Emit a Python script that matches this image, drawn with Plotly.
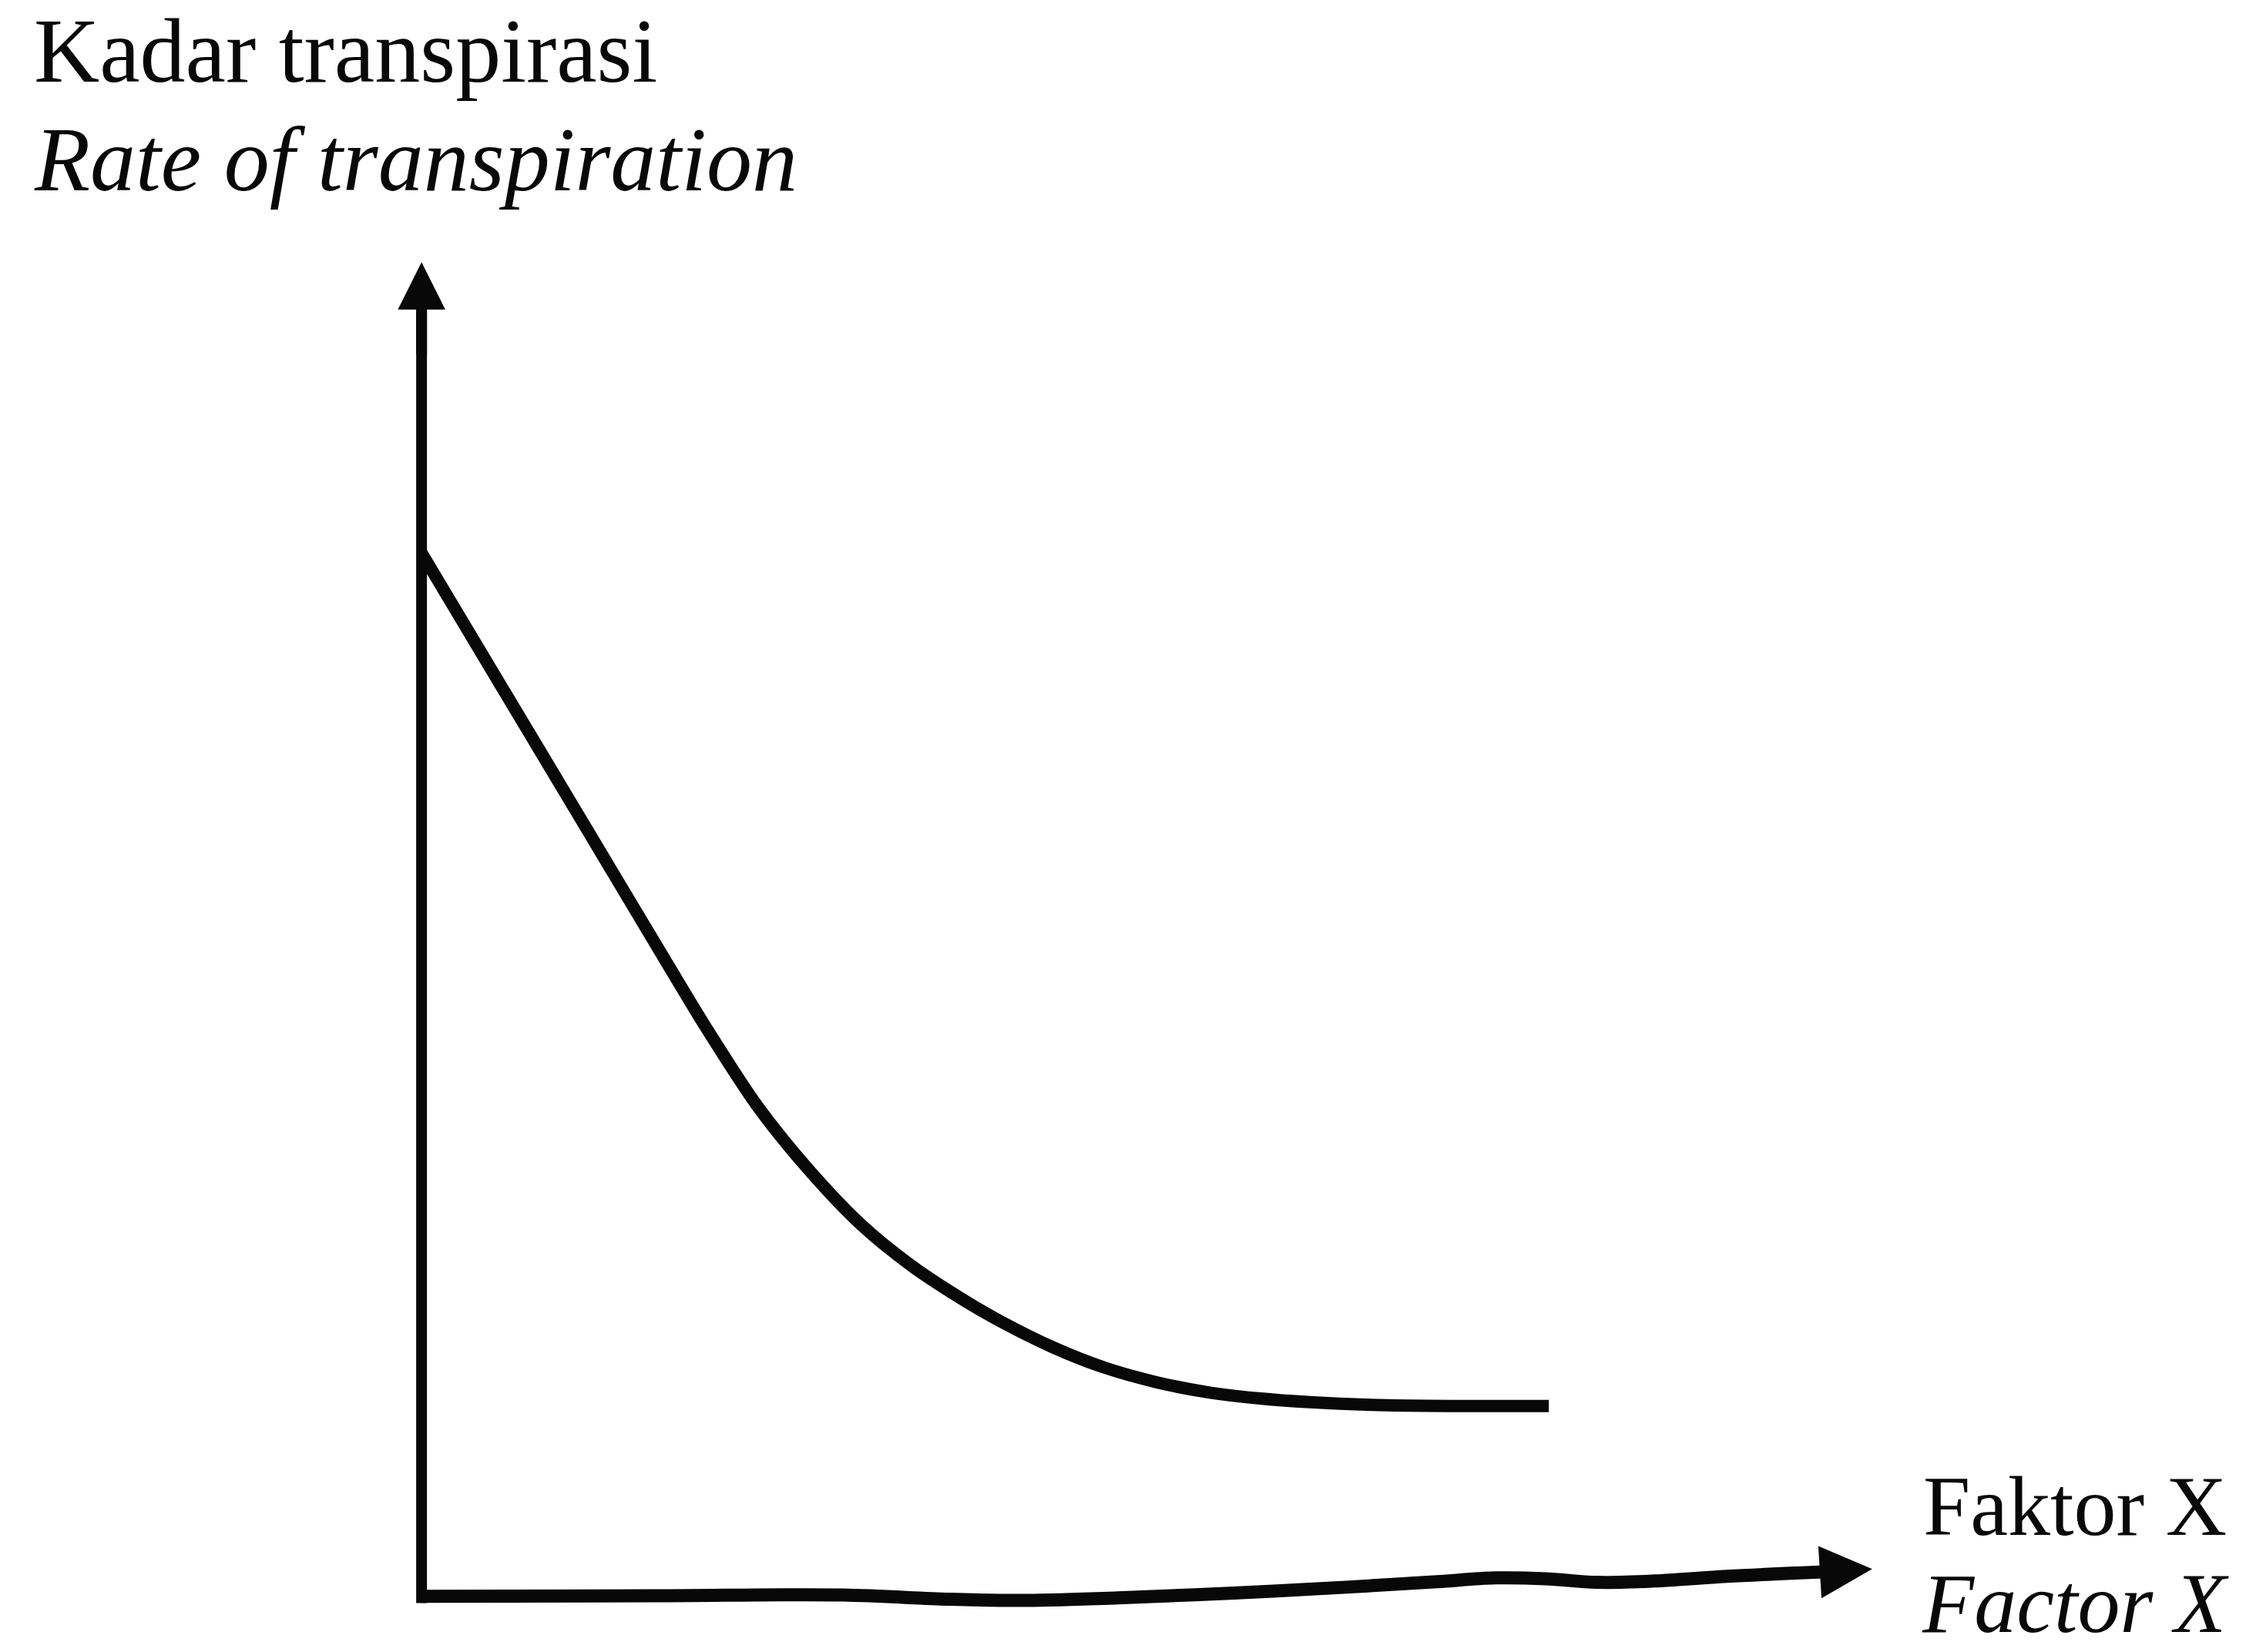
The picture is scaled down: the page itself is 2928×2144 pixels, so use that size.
import plotly.graph_objects as go

# ---- data (x = Factor X, y = rate of transpiration, arbitrary units) ----
factor_x = [0.000, 0.547, 1.078, 1.609, 1.965, 2.316, 2.672, 3.027, 3.378, 3.734,
            4.000, 4.356, 4.706, 5.062, 5.418, 5.769, 6.125, 6.656, 7.187, 7.771]
rate = [7.820, 6.826, 5.862, 4.897, 4.256, 3.673, 3.194, 2.789, 2.478, 2.223,
        2.056, 1.865, 1.715, 1.606, 1.530, 1.484, 1.455, 1.432, 1.426, 1.426]

# hand-drawn (slightly wavy) horizontal axis
axis_x = [0.00, 1.60, 2.90, 3.64, 4.17, 4.80, 5.60, 6.40, 7.00, 7.40,
          7.75, 8.10, 8.50, 9.00, 9.70]
axis_y = [0.000, 0.004, 0.010, -0.022, -0.030, -0.012, 0.025, 0.070, 0.110, 0.138,
          0.132, 0.105, 0.115, 0.150, 0.185]

y_label = ["Kadar transpirasi", "Rate of transpiration"]
x_label = ["Faktor X", "Factor X"]

# ---- layout geometry ----
W, H = 2928, 2144
L, R, T, B = 453, 404, 271, 3
XR = [-0.5, 10.5]
YR = [-0.4, 10.4]
INK = "#080808"
FONT = "Liberation Serif"


def px_x(px):
    return (px - L) / (W - L - R)


def px_y(py):
    return (H - B - py) / (H - T - B)


fig = go.Figure()

# vertical axis line
fig.add_trace(go.Scatter(x=[0, 0], y=[-0.05, 9.8], mode="lines",
                         line=dict(color=INK, width=14), hoverinfo="skip"))
# horizontal wavy axis line
fig.add_trace(go.Scatter(x=axis_x, y=axis_y, mode="lines",
                         line=dict(color=INK, width=17, shape="spline", smoothing=1.0),
                         hoverinfo="skip"))
# the curve
fig.add_trace(go.Scatter(x=factor_x, y=rate, mode="lines",
                         line=dict(color=INK, width=16, shape="spline", smoothing=0.8),
                         hoverinfo="skip"))

annotations = [
    # arrow heads
    dict(x=0, y=10, ax=0, ay=9.3, xref="x", yref="y", axref="x", ayref="y",
         text="", showarrow=True, arrowhead=2, arrowsize=0.88, arrowwidth=14,
         arrowcolor=INK, standoff=0, startstandoff=0),
    dict(x=10, y=0.205, ax=axis_x[-1], ay=axis_y[-1], xref="x", yref="y", axref="x", ayref="y",
         text="", showarrow=True, arrowhead=2, arrowsize=0.80, arrowwidth=17,
         arrowcolor=INK, standoff=0, startstandoff=0),
    # labels
    dict(x=px_x(42), y=px_y(66), xref="paper", yref="paper", xanchor="left", yanchor="middle",
         text=y_label[0], showarrow=False, font=dict(family=FONT, size=118, color=INK)),
    dict(x=px_x(42), y=px_y(207), xref="paper", yref="paper", xanchor="left", yanchor="middle",
         text="<i>" + y_label[1] + "</i>", showarrow=False, font=dict(family=FONT, size=118, color=INK)),
    dict(x=px_x(2494), y=px_y(1955), xref="paper", yref="paper", xanchor="left", yanchor="middle",
         text=x_label[0], showarrow=False, font=dict(family=FONT, size=110, color=INK)),
    dict(x=px_x(2492), y=px_y(2081), xref="paper", yref="paper", xanchor="left", yanchor="middle",
         text="<i>" + x_label[1] + "</i>", showarrow=False, font=dict(family=FONT, size=110, color=INK)),
]

fig.update_layout(
    width=W, height=H, autosize=False,
    margin=dict(l=L, r=R, t=T, b=B, pad=0),
    paper_bgcolor="white", plot_bgcolor="white",
    showlegend=False,
    xaxis=dict(range=XR, visible=False, fixedrange=True),
    yaxis=dict(range=YR, visible=False, fixedrange=True),
    annotations=annotations,
)

fig.write_html("out.html", config={"displayModeBar": False, "staticPlot": True})
with open("out.html", "r", encoding="utf-8") as f:
    html = f.read()
html = html.replace("<head>", "<head><style>html,body{margin:0;padding:0;overflow:hidden;}</style>", 1)
with open("out.html", "w", encoding="utf-8") as f:
    f.write(html)
